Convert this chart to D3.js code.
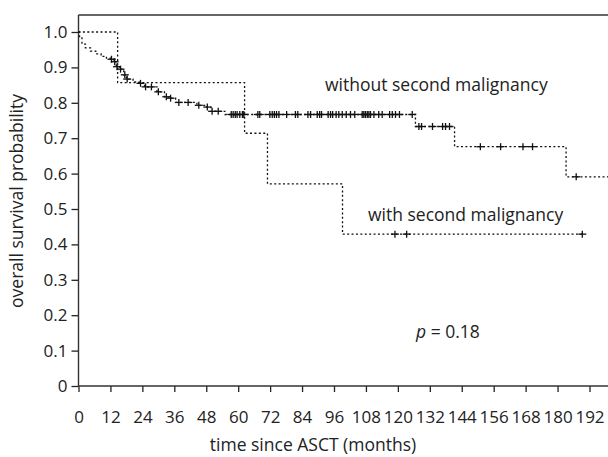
<!DOCTYPE html>
<html>
<head>
<meta charset="utf-8">
<script src="https://cdn.jsdelivr.net/npm/d3@7"></script>
<style>
  body { margin: 0; background: #fff; }
  svg { display: block; }
  text { font-family: "Open Sans", "Noto Sans", sans-serif; fill: #222; }
  .axis path { display: none; }
  .axis line { stroke: #222; stroke-width: 1.3; }
  .axis text { font-size: 17px; }
  .curve { fill: none; stroke: #111; stroke-width: 1.3; stroke-dasharray: 2,2.4; }
  .censor { stroke: #111; stroke-width: 1.3; }
</style>
</head>
<body>
<div id="chart"></div>
<script>
// DATA
var xTicks = [0, 12, 24, 36, 48, 60, 72, 84, 96, 108, 120, 132, 144, 156, 168, 180, 192];
var yTicks = [0, 0.1, 0.2, 0.3, 0.4, 0.5, 0.6, 0.7, 0.8, 0.9, 1.0];

// without second malignancy: [month, survival after event]
var withoutSteps = [[0, 1], [0.4, 0.983], [1.3, 0.966], [2.6, 0.955], [4.5, 0.946], [6.5, 0.938],
  [8.5, 0.931], [10.5, 0.926], [12.0, 0.923], [13.2, 0.916], [14.2, 0.902], [15.4, 0.895],
  [17.0, 0.879], [18.0, 0.867], [20.5, 0.859], [22.8, 0.855], [24.8, 0.845], [29.5, 0.831],
  [32.3, 0.817], [34.2, 0.813], [36.5, 0.801], [44.5, 0.793], [47.8, 0.788], [49.8, 0.776],
  [55.0, 0.767], [126.6, 0.733], [141.3, 0.676], [183.2, 0.591]];
var withoutEnd = 200;
var withoutCensored = [12.4, 13.6, 14.5, 15.8, 17.4, 18.3, 23.3, 25.2, 27.4, 30, 33, 34.6, 37.7,
  41.2, 45.2, 48.4, 50.2, 52.5, 57.4, 58.1, 58.9, 59.6, 60.6, 61.6, 62.1, 67.4, 68.1, 71.9, 72.8,
  73.6, 74.4, 75.3, 78.2, 81.5, 82.4, 86.2, 87.2, 89.7, 90.6, 91.3, 93.8, 94.7, 95.5, 96.8, 97.8,
  99.1, 100.6, 102.2, 103.8, 106.6, 107.2, 107.8, 108.5, 109.1, 109.7, 111, 112.8, 114.1, 116.9,
  117.9, 119.1, 120.6, 125.4, 127.9, 128.9, 133, 136.8, 137.9, 139.4, 151, 158.6, 167, 170.6, 187];

// with second malignancy
var withSteps = [[0, 1], [14.7, 0.857], [62.4, 0.714], [71, 0.571], [99.2, 0.429]];
var withEnd = 189.3;
var withCensored = [118.9, 123.3, 189.3];

var w = 608;
var h = 457;
var svg = d3.select("#chart").append("svg")
  .attr("width", w)
  .attr("height", h);

//SCALES
var xScale = d3.scaleLinear().domain([0, 192]).range([78.5, 589.5]);
var yScale = d3.scaleLinear().domain([0, 1]).range([386, 32]);
var yTop = 15;

//AXES
svg.append("g")
  .attr("class", "axis")
  .attr("transform", "translate(0,386)")
  .call(d3.axisBottom(xScale).tickValues(xTicks).tickSize(6).tickPadding(19).tickFormat(d3.format("d")));

svg.append("g")
  .attr("class", "axis")
  .attr("transform", "translate(78.5,0)")
  .call(d3.axisLeft(yScale).tickValues(yTicks).tickSize(7).tickPadding(4)
    .tickFormat(function(d) { return d === 0 ? "0" : d3.format(".1f")(d); }));

//FRAME
svg.append("line").attr("x1", 78.5).attr("x2", 78.5).attr("y1", yTop).attr("y2", 386)
  .attr("stroke", "#333").attr("stroke-width", 1.4);
svg.append("line").attr("x1", 78.5).attr("x2", w).attr("y1", 386).attr("y2", 386)
  .attr("stroke", "#333").attr("stroke-width", 1.4);
svg.append("line").attr("x1", 78.5).attr("x2", w).attr("y1", yTop).attr("y2", yTop)
  .attr("stroke", "#333").attr("stroke-width", 1.4);

//CURVES
function survAt(steps, t) {
  var s = steps[0][1];
  for (var i = 0; i < steps.length; i++) {
    if (steps[i][0] <= t) s = steps[i][1];
  }
  return s;
}

var line = d3.line()
  .x(function(d) { return xScale(d[0]); })
  .y(function(d) { return yScale(d[1]); })
  .curve(d3.curveStepAfter);

function drawCurve(steps, end, censored) {
  var pts = steps.concat([[end, steps[steps.length - 1][1]]]);
  svg.append("path").attr("class", "curve").attr("d", line(pts));
  var g = svg.append("g");
  censored.forEach(function(t) {
    var cx = xScale(t);
    var cy = yScale(survAt(steps, t));
    g.append("line").attr("class", "censor")
      .attr("x1", cx - 4).attr("x2", cx + 4).attr("y1", cy).attr("y2", cy);
    g.append("line").attr("class", "censor")
      .attr("x1", cx).attr("x2", cx).attr("y1", cy - 3.5).attr("y2", cy + 3.5);
  });
}

drawCurve(withSteps, withEnd, withCensored);
drawCurve(withoutSteps, withoutEnd, withoutCensored);

//LABELS
svg.append("text").attr("x", 325).attr("y", 91).style("font-size", "17.5px")
  .text("without second malignancy");
svg.append("text").attr("x", 368).attr("y", 221).style("font-size", "17.5px")
  .text("with second malignancy");
var pt = svg.append("text").attr("x", 416).attr("y", 338).style("font-size", "17.5px");
pt.append("tspan").style("font-style", "italic").text("p");
pt.append("tspan").text(" = 0.18");

svg.append("text")
  .attr("x", 313).attr("y", 451)
  .attr("text-anchor", "middle").style("font-size", "17.5px")
  .text("time since ASCT (months)");

svg.append("text")
  .attr("transform", "translate(23,201) rotate(-90)")
  .attr("text-anchor", "middle").style("font-size", "17.5px")
  .text("overall survival probability");
</script>
</body>
</html>
